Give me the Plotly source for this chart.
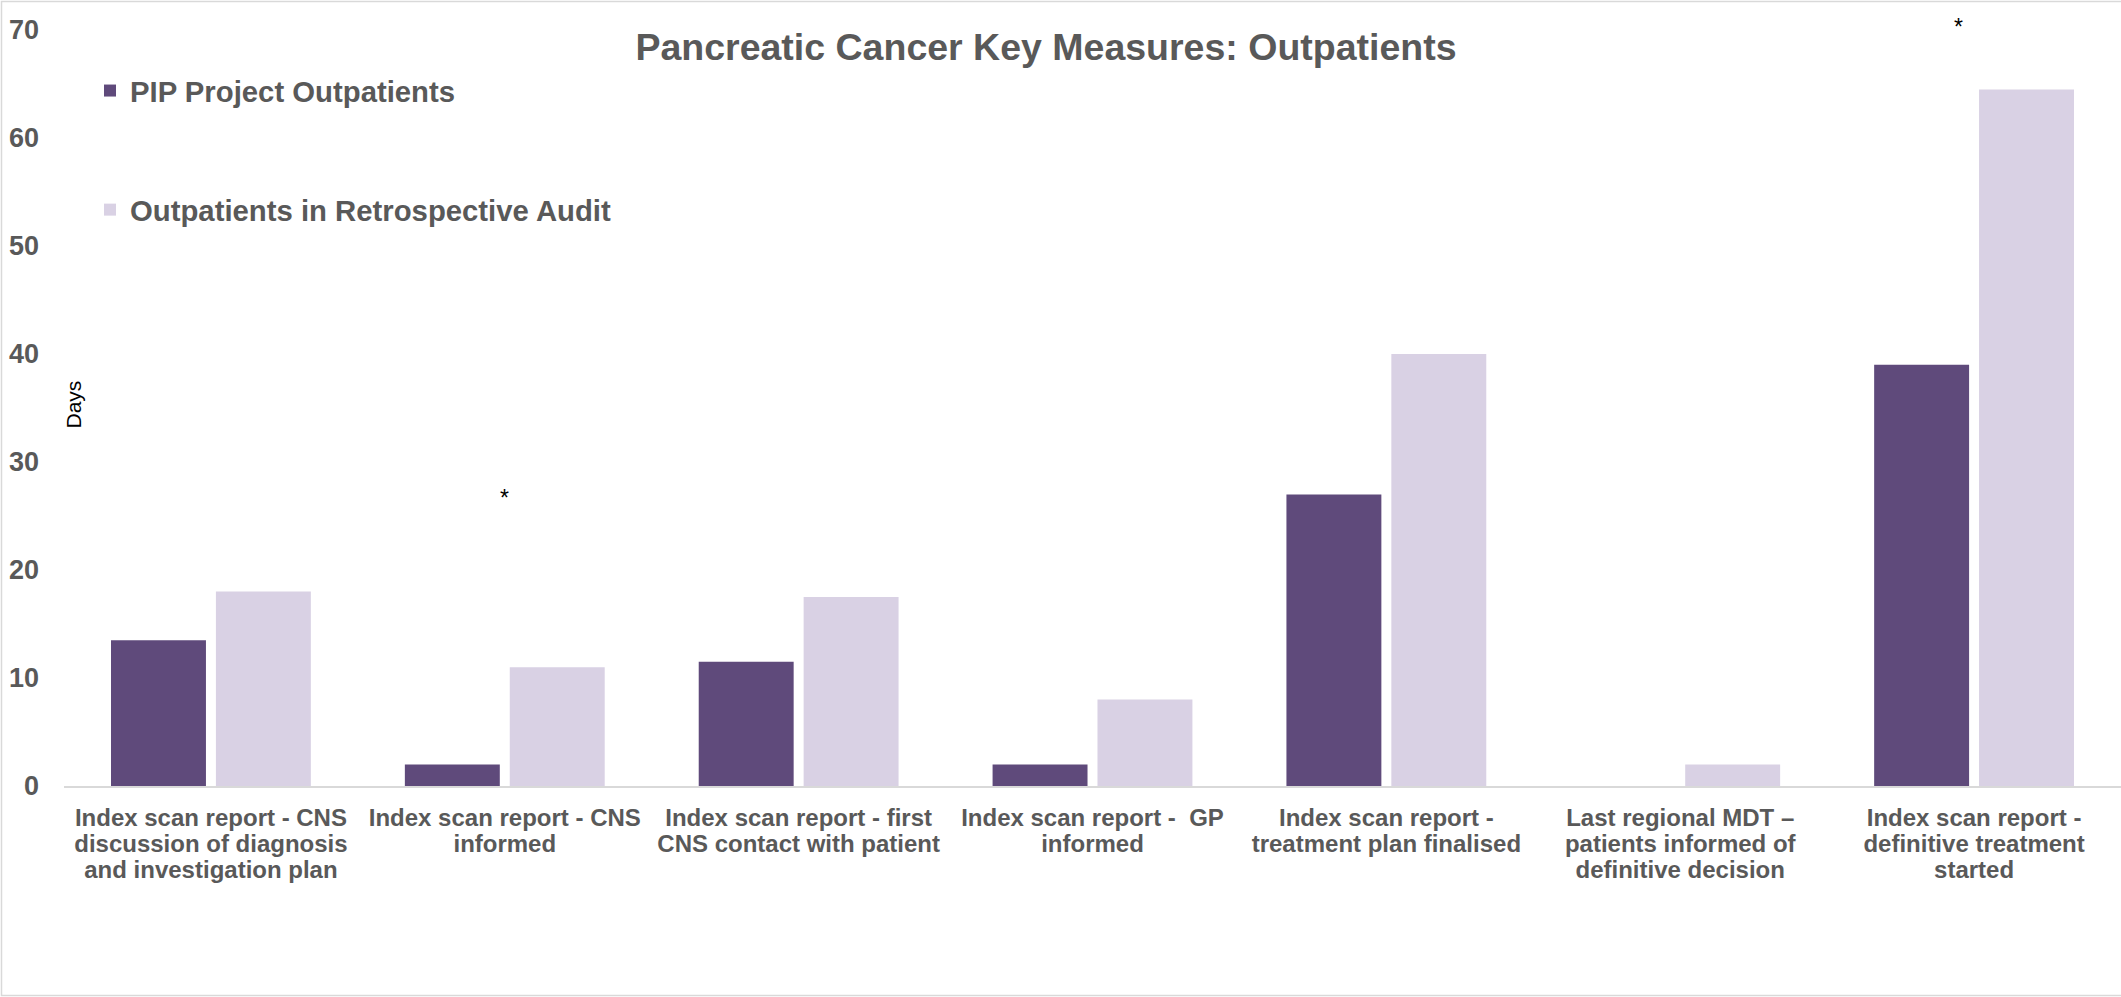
import plotly.graph_objects as go

# Key measure labels, one list entry per line of the wrapped axis label
measure_lines = [
    ["Index scan report - CNS", "discussion of diagnosis", "and investigation plan"],
    ["Index scan report - CNS", "informed"],
    ["Index scan report - first", "CNS contact with patient"],
    ["Index scan report -  GP", "informed"],
    ["Index scan report -", "treatment plan finalised"],
    ["Last regional MDT \u2013", "patients informed of", "definitive decision"],
    ["Index scan report -", "definitive treatment", "started"],
]

# Median days for each measure
pip_days = [13.5, 2, 11.5, 2, 27, 0, 39]
audit_days = [18, 11, 17.5, 8, 40, 2, 64.5]

series_names = ["PIP Project Outpatients", "Outpatients in Retrospective Audit"]
series_colors = ["#5f4a7b", "#d9d1e4"]

# Measures flagged with an asterisk, and the height (days) of the marker
flagged = [(1, 26.7, 0), (6, 71.7, -16)]

Y_MAX = 70

TEXT_GREY = "#595959"
FONT = "Liberation Sans, Arial, sans-serif"

W, H = 2121, 997
ML, MR, MT, MB = 64, 0, 30, 211
PW, PH = W - ML - MR, H - MT - MB


def label(lines):
    return "<br>".join(f'<span style="font-size:24px">{t}</span>' for t in lines)


categories = [label(l) for l in measure_lines]

fig = go.Figure()
for i, (name, vals, col) in enumerate(zip(series_names, [pip_days, audit_days], series_colors)):
    fig.add_trace(go.Bar(
        x=categories, y=vals, name=name, marker=dict(color=col, line=dict(width=0)),
        legendgroup=f"g{i}", hoverinfo="y+name",
    ))

# Asterisk markers; positioned against the paper so the top one is not
# hidden when it sits above the axis range
for idx, yv, dx in flagged:
    fig.add_annotation(
        x=categories[idx], xref="x", y=yv / Y_MAX, yref="paper",
        text="*", showarrow=False, xshift=dx,
        font=dict(family=FONT, size=23, color="#000000"),
    )

# Vertical axis caption
fig.add_annotation(
    xref="paper", yref="paper", x=(59 - ML) / PW, y=1 - (405 - MT) / PH,
    text="Days", textangle=-90, showarrow=False,
    font=dict(family=FONT, size=21, color="#000000"),
)

# Thin frame around the chart
fig.add_shape(
    type="rect", xref="paper", yref="paper",
    x0=(1.5 - ML) / PW, x1=1.02, y0=1 - (995.5 - MT) / PH, y1=1 + (MT - 1.5) / PH,
    line=dict(color="#d9d9d9", width=1.5), fillcolor="rgba(0,0,0,0)", layer="below",
)

fig.update_layout(
    width=W, height=H,
    margin=dict(l=ML, r=MR, t=MT, b=MB, autoexpand=False),
    paper_bgcolor="white", plot_bgcolor="white",
    font=dict(family=FONT, color=TEXT_GREY),
    title=dict(
        text="<b>Pancreatic Cancer Key Measures: Outpatients</b>",
        x=1046 / W, xanchor="center", y=1 - 47 / H, yanchor="middle",
        xref="container", yref="container",
        font=dict(family=FONT, size=37.5, color=TEXT_GREY),
    ),
    barmode="group", bargap=0.286, bargroupgap=0.095,
    showlegend=True,
    legend=dict(
        x=(90 - ML) / PW, xanchor="left", y=1 - (65 - MT) / PH, yanchor="top",
        bgcolor="rgba(0,0,0,0)", borderwidth=0, tracegroupgap=78,
        font=dict(family=FONT, size=29.3, color=TEXT_GREY, weight="bold"),
    ),
    xaxis=dict(
        showline=True, linecolor="#d9d9d9", linewidth=2, showgrid=False,
        ticks="", tickfont=dict(family=FONT, size=20, color=TEXT_GREY, weight="bold"),
        ticklabelstandoff=14, automargin=False,
    ),
    yaxis=dict(
        range=[0, Y_MAX], dtick=10, showgrid=False, zeroline=False, showline=False,
        ticks="", tickfont=dict(family=FONT, size=27, color=TEXT_GREY, weight="bold"),
        ticklabelstandoff=24, automargin=False,
    ),
)

fig.write_html("out.html")
